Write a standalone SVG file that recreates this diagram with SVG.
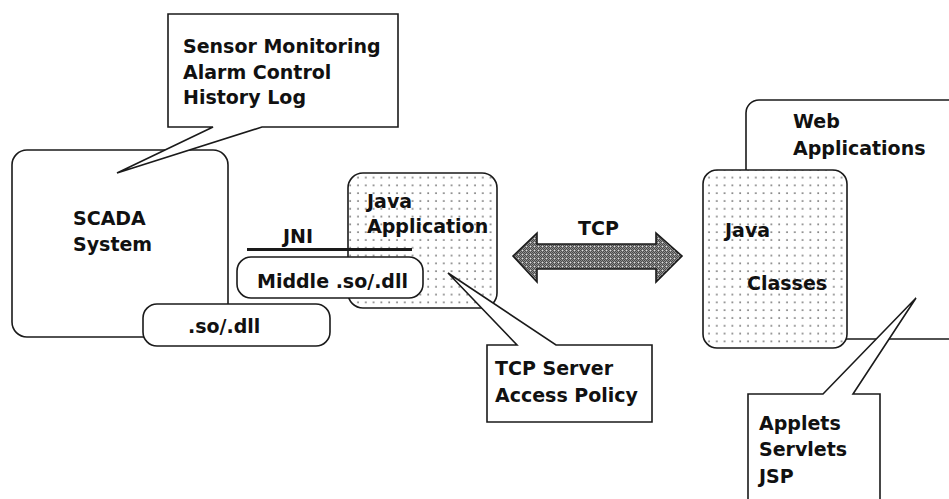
<svg xmlns="http://www.w3.org/2000/svg" width="949" height="499" viewBox="0 0 949 499">
  <defs>
    <pattern id="dots" x="3" y="2" width="7.8" height="7.8" patternUnits="userSpaceOnUse">
      <rect width="7.8" height="7.8" fill="#fff"/>
      <rect x="3.3" y="3.3" width="1.4" height="1.4" fill="#444"/>
    </pattern>
    <pattern id="stipple" width="4" height="4" patternUnits="userSpaceOnUse">
      <rect width="4" height="4" fill="#8e8e8e"/>
      <rect width="1" height="1" fill="#4a4a4a"/>
      <rect x="2" y="0" width="1" height="1" fill="#4a4a4a"/>
      <rect x="1" y="1" width="1" height="1" fill="#4a4a4a"/>
      <rect x="3" y="1" width="1" height="1" fill="#4a4a4a"/>
      <rect x="0" y="2" width="1" height="1" fill="#4a4a4a"/>
      <rect x="2" y="2" width="1" height="1" fill="#ddd"/>
      <rect x="1" y="3" width="1" height="1" fill="#4a4a4a"/>
      <rect x="3" y="3" width="1" height="1" fill="#4a4a4a"/>
    </pattern>
  </defs>
  <style>
    .box { fill: #fff; stroke: #1a1a1a; stroke-width: 1.6; }
    .dotbox { fill: url(#dots); stroke: #1a1a1a; stroke-width: 1.6; }
    .callout { fill: #fff; stroke: #1a1a1a; stroke-width: 1.6; stroke-linejoin: miter; }
    .lbl { font-family: "DejaVu Sans", Verdana, sans-serif; font-weight: bold; font-size: 19px; fill: #111; }
    .arrow { fill: url(#stipple); stroke: #1a1a1a; stroke-width: 1.6; stroke-linejoin: miter; }
  </style>
  <rect width="949" height="499" fill="#fff"/>

  <g id="scada">
    <rect class="box" x="12" y="150" width="216" height="187" rx="15" ry="15"/>
    <text class="lbl" x="73" y="225">SCADA</text>
    <text class="lbl" x="73" y="251">System</text>
  </g>

  <g id="so-dll">
    <rect class="box" x="143" y="304" width="187" height="42" rx="14" ry="14"/>
    <text class="lbl" x="188" y="333">.so/.dll</text>
  </g>

  <g id="java-application">
    <rect class="dotbox" x="348" y="173" width="149" height="135" rx="15" ry="15"/>
    <text class="lbl" x="367" y="208">Java</text>
    <text class="lbl" x="367" y="233">Application</text>
  </g>

  <g id="web-applications">
    <rect class="box" x="746" y="100" width="240" height="239" rx="13" ry="13"/>
    <text class="lbl" x="793" y="128">Web</text>
    <text class="lbl" x="793" y="155">Applications</text>
  </g>

  <g id="java-classes">
    <rect class="dotbox" x="703" y="170" width="144" height="178" rx="14" ry="14"/>
    <text class="lbl" x="725" y="237">Java</text>
    <text class="lbl" x="747" y="290">Classes</text>
  </g>

  <g id="connectors">
    <g id="jni">
      <line x1="247" y1="249.5" x2="412" y2="249.5" stroke="#1a1a1a" stroke-width="3"/>
      <text class="lbl" x="283" y="243">JNI</text>
    </g>
    <g id="tcp">
      <polygon class="arrow" points="513,256 537,233 537,244 656,244 656,233 682,256 656,282 656,269 537,269 537,282"/>
      <text class="lbl" x="578" y="235">TCP</text>
    </g>
  </g>

  <g id="middle-so-dll">
    <rect class="box" x="237" y="257" width="186" height="41" rx="14" ry="14"/>
    <text class="lbl" x="257" y="288">Middle .so/.dll</text>
  </g>

  <g id="callout-scada">
    <path class="callout" d="M168,14 H398 V127 H262 L117,173 L213,127 H168 Z"/>
    <text class="lbl" x="183" y="53">Sensor Monitoring</text>
    <text class="lbl" x="183" y="79">Alarm Control</text>
    <text class="lbl" x="183" y="104">History Log</text>
  </g>

  <g id="callout-tcp-server">
    <path class="callout" d="M487,345 H517 L448,273 L556,345 H652 V422 H487 Z"/>
    <text class="lbl" x="495" y="375">TCP Server</text>
    <text class="lbl" x="495" y="402">Access Policy</text>
  </g>

  <g id="callout-applets">
    <path class="callout" d="M748,512 V394 H823 L916,298 L853,394 H880 V512"/>
    <text class="lbl" x="759" y="430">Applets</text>
    <text class="lbl" x="759" y="456">Servlets</text>
    <text class="lbl" x="759" y="483">JSP</text>
  </g>
</svg>
